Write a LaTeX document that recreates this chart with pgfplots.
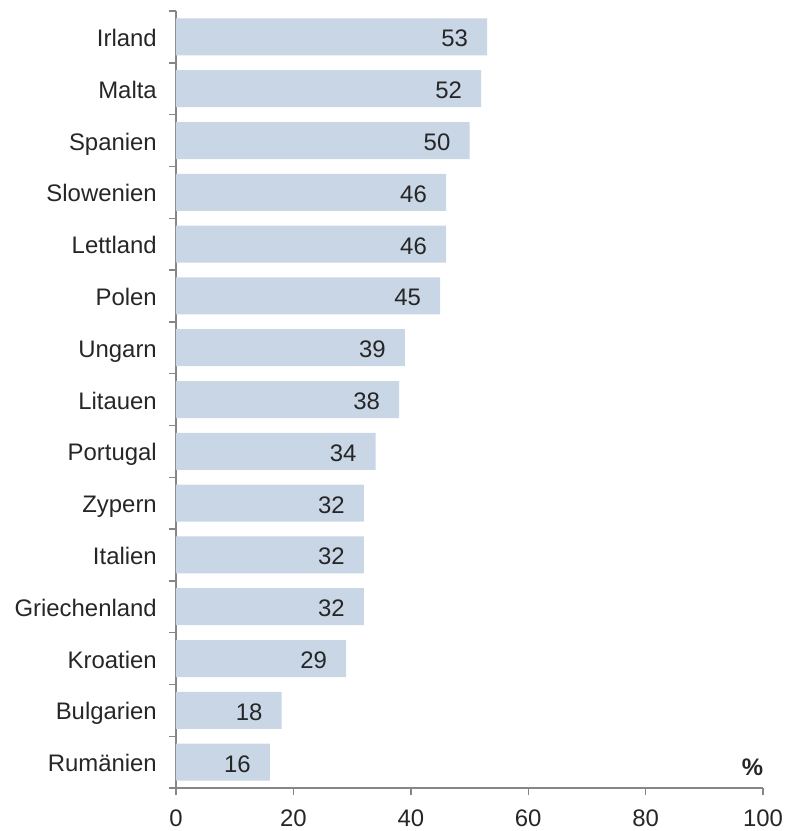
\documentclass[border=0pt]{standalone}
\usepackage{pgfplots}
\pgfplotsset{compat=1.18}
\usepackage{fontspec}
\setmainfont{Liberation Sans}
\definecolor{barcol}{RGB}{200,214,230}
\definecolor{axcol}{RGB}{134,134,134}
\definecolor{txtcol}{RGB}{38,38,38}
\begin{document}
\fontsize{24}{28}\selectfont
\begin{tikzpicture}
\begin{axis}[
  name=ax,
  scale only axis,
  width=587bp, height=777bp,
  xbar, bar width=37bp,
  xmin=0, xmax=100,
  ymin=-0.5, ymax=14.5,
  y dir=reverse,
  axis x line*=bottom, axis y line*=left,
  axis line style={axcol, line width=1.4bp},
  every tick/.style={axcol, line width=1.4bp},
  tick align=outside,
  xtick={0,20,...,100},
  ytick={-0.5,0.5,...,14.5},
  yticklabels={},
  extra y ticks={0,...,14},
  extra y tick labels={Irland,Malta,Spanien,Slowenien,Lettland,Polen,Ungarn,Litauen,Portugal,Zypern,Italien,Griechenland,Kroatien,Bulgarien,Rumänien},
  extra y tick style={major tick length=0pt, yticklabel style={inner sep=0pt, anchor=base east, xshift=-19bp, yshift=-9.5bp, text=txtcol, font=\fontsize{24}{28}\selectfont}},
  major tick length=7bp,
  xticklabel style={inner sep=0pt, anchor=north, yshift=-15bp, text=txtcol, font=\fontsize{24}{28}\selectfont},
  /pgf/number format/assume math mode=true,
  nodes near coords,
  nodes near coords align={anchor=base east},
  every node near coord/.append style={inner sep=0pt, xshift=-19bp, yshift=-10bp, text=txtcol, font=\fontsize{24}{28}\selectfont},
  clip=false,
]
\addplot[fill=barcol, draw=none] coordinates {
(53,0) (52,1) (50,2) (46,3) (46,4) (45,5) (39,6) (38,7) (34,8) (32,9) (32,10) (32,11) (29,12) (18,13) (16,14)
};
\node[text=txtcol, font=\bfseries\fontsize{24}{28}\selectfont] at (axis cs:98.2,14.1) {\%};
\end{axis}
\pgfresetboundingbox
\path[use as bounding box] ([xshift=-176bp,yshift=-43bp]ax.south west) rectangle ([xshift=23bp,yshift=11bp]ax.north east);
\end{tikzpicture}
\end{document}
